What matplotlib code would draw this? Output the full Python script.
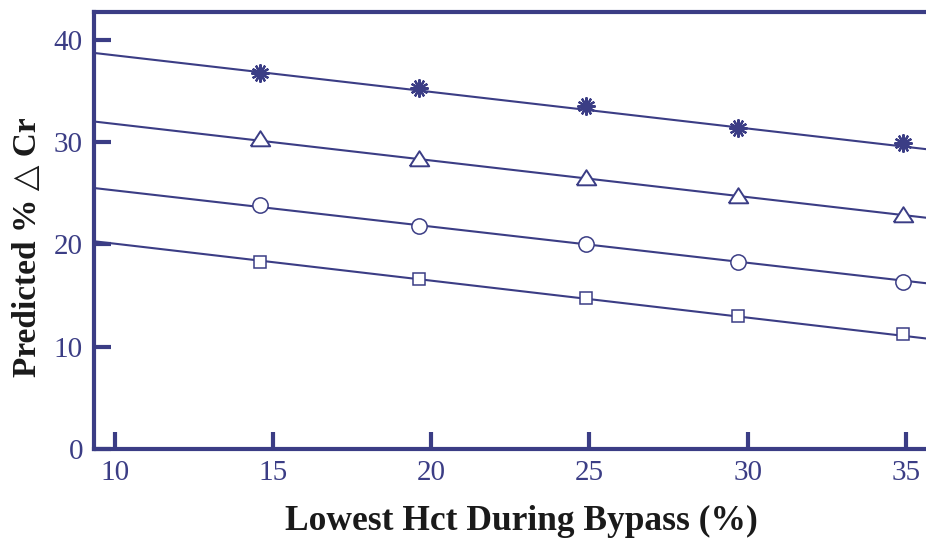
import matplotlib
matplotlib.use('Agg')
import matplotlib.pyplot as plt

# Lowest hematocrit during bypass (%) - x positions of markers
hct = [14.6, 19.6, 24.9, 29.7, 34.9]

# Predicted % change in creatinine, one series per marker type
star_vals = [36.7, 35.3, 33.5, 31.4, 29.9]
tri_vals = [30.3, 28.3, 26.5, 24.7, 22.9]
circ_vals = [23.8, 21.8, 20.0, 18.3, 16.3]
sq_vals = [18.3, 16.6, 14.8, 13.0, 11.2]

# Fitted lines: value at left and right edge of the plot
fit_x = [9.34, 35.64]
star_fit = [38.7, 29.3]
tri_fit = [32.0, 22.6]
circ_fit = [25.5, 16.2]
sq_fit = [20.3, 10.8]

x_ticks = [10, 15, 20, 25, 30, 35]
y_ticks = [0, 10, 20, 30, 40]

navy = '#3b3d85'

# flatter open triangle like the original
tri_marker = [(-1, -0.7), (1, -0.7), (0, 0.85), (-1, -0.7)]

fig = plt.figure(figsize=(9.26, 5.42), dpi=100)
ax = fig.add_axes([94 / 926, 1 - 449 / 542, 1 - 94 / 926, (449 - 12) / 542])

for fit in [star_fit, tri_fit, circ_fit, sq_fit]:
    ax.plot(fit_x, fit, color=navy, lw=1.5, zorder=2)

ax.plot(hct, star_vals, ls='none', marker=(12, 2, 0), ms=13, mew=1.6,
        color=navy, zorder=3)
ax.plot(hct, tri_vals, ls='none', marker=tri_marker, ms=14, mew=1.4,
        mfc='white', mec=navy, zorder=3)
ax.plot(hct, circ_vals, ls='none', marker='o', ms=11, mew=1.1,
        mfc='white', mec=navy, zorder=3)
ax.plot(hct, sq_vals, ls='none', marker='s', ms=9, mew=1.1,
        mfc='white', mec=navy, zorder=3)

ax.set_xlim(fit_x[0], fit_x[1])
ax.set_ylim(0, 42.7)
ax.set_xticks(x_ticks)
ax.set_yticks(y_ticks)

for side in ['left', 'bottom', 'top']:
    ax.spines[side].set_color(navy)
    ax.spines[side].set_linewidth(3)
ax.spines['right'].set_visible(False)

ax.tick_params(axis='both', direction='in', length=12, width=3, color=navy,
               labelcolor=navy, labelsize=21)
ax.tick_params(axis='y', pad=8)
ax.tick_params(axis='x', pad=8)
for lab in ax.get_xticklabels() + ax.get_yticklabels():
    lab.set_family(['Liberation Serif', 'DejaVu Serif'])

fig.text(521 / 926, 1 - 521 / 542, 'Lowest Hct During Bypass (%)',
         ha='center', va='center', fontsize=25.5, fontweight='bold',
         family=['Liberation Serif', 'DejaVu Serif'], color='#1a1a1a')
fig.text(28 / 926, 1 - 247 / 542, 'Predicted % \u25b3 Cr', rotation=90,
         ha='center', va='center', fontsize=24, fontweight='bold',
         family=['Liberation Serif', 'DejaVu Sans'], color='#1a1a1a')

fig.savefig('out.png', dpi=100)
